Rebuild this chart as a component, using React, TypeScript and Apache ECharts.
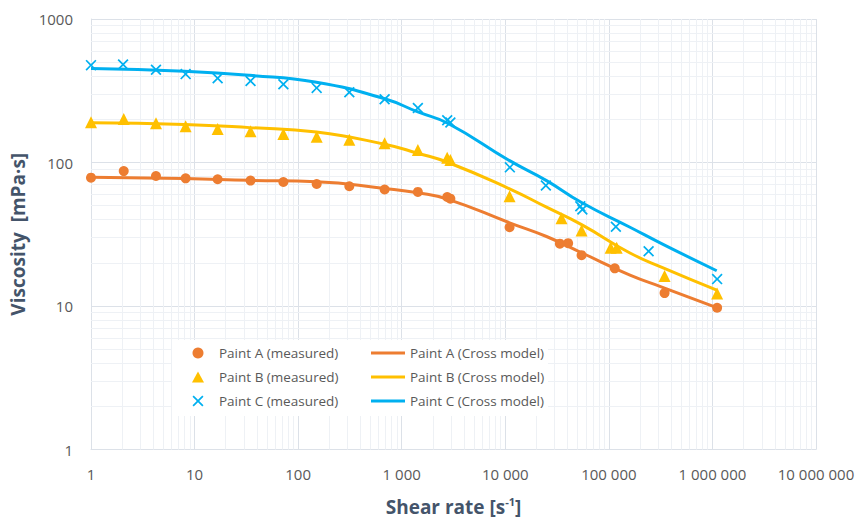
import React, { useEffect, useRef } from "react";
import * as echarts from "echarts";

// ---- Data ----
const measuredAX = [1, 2.07, 4.24, 8.2, 16.7, 34.7, 72, 151, 312, 684, 1432, 2750, 2950, 11000, 33650, 40450, 54500, 114000, 345000, 1110000];
const measuredAY = [78.4, 87.1, 80.5, 77.6, 76.4, 74.8, 73.1, 70.8, 68.3, 64.8, 62.4, 57.5, 56, 35.4, 27.2, 27.4, 22.6, 18.3, 12.3, 9.73];

const measuredBX = [1, 2.07, 4.24, 8.2, 16.7, 34.7, 72, 151, 312, 684, 1432, 2750, 2950, 11000, 34900, 54500, 104000, 119000, 345000, 1110000];
const measuredBY = [191, 201, 188, 179, 171, 165, 158, 151, 144, 136, 122, 108, 104, 58.1, 40.8, 33.6, 25.5, 25.5, 16.2, 12.2];

const measuredCX = [1, 2.04, 4.24, 8.2, 16.7, 34.7, 72, 151, 312, 684, 1432, 2750, 2950, 11070, 24650, 53000, 55500, 116900, 242000, 1110000];
const measuredCY = [477, 482, 443, 413, 386, 370, 351, 331, 309, 276, 240, 197, 190, 92.5, 69.1, 49.5, 47, 35.7, 24.1, 15.4];

const modelX = [1, 8, 34, 150, 684, 1432, 2810, 11000, 25000, 54500, 160000, 330000, 1100000];
const modelAY = [78.8, 77.3, 75.1, 73.5, 65.9, 61.5, 55.4, 38, 30.5, 23.5, 16.4, 13.5, 9.73];
const modelBY = [189, 184, 175, 163, 134, 116, 100, 65.5, 48.8, 36.9, 23.4, 18.5, 12.9];
const modelCY = [452, 433, 405, 362, 278, 225, 187, 103, 74.8, 52.6, 35.4, 27, 17.6];

const seriesNamesMeasured = ["Paint A (measured)", "Paint B (measured)", "Paint C (measured)"];
const seriesNamesModel = ["Paint A (Cross model)", "Paint B (Cross model)", "Paint C (Cross model)"];

const xMin = 1;
const xMax = 10000000;
const yMin = 1;
const yMax = 1000;

// minor log gridline values (2..9 in each decade)
const minorValues = (lo: number, hi: number) => {
  const out: number[] = [];
  for (let d = lo; d < hi; d *= 10) {
    for (let m = 2; m <= 9; m++) out.push(m * d);
  }
  return out;
};

const COLORS = ["#ED7D31", "#FFC000", "#00B0F0"];
const XSYMBOL = "path://M1.1,0L5,3.9L8.9,0L10,1.1L6.1,5L10,8.9L8.9,10L5,6.1L1.1,10L0,8.9L3.9,5L0,1.1Z";

const zip = (xs: number[], ys: number[]) => xs.map((x, i) => [x, ys[i]]);
const fmtSpace = (v: number) => String(Math.round(v)).replace(/\B(?=(\d{3})+(?!\d))/g, " ");

const FONT = "'Open Sans', 'Noto Sans', sans-serif";
const TITLE_COLOR = "#44546A";
const TEXT_COLOR = "#595959";
const MAJOR = "#DCE1E8";
const MINOR = "#EEF1F5";

export default function App() {
  const ref = useRef<HTMLDivElement>(null);

  useEffect(() => {
    document.body.style.margin = "0";
    if (!ref.current) return;
    const chart = echarts.init(ref.current, undefined, { renderer: "svg" });

    const legendText = { color: TEXT_COLOR, fontSize: 13.5, fontFamily: FONT, lineHeight: 18 };

    const option: any = {
      animation: false,
      backgroundColor: "#ffffff",
      textStyle: { fontFamily: FONT },
      grid: { left: 91, top: 19, width: 725, height: 436, containLabel: false },
      xAxis: {
        type: "log",
        logBase: 10,
        min: xMin,
        max: xMax,
        name: "{a|Shear rate [s}{b|-1}{a|]}",
        nameLocation: "middle",
        nameGap: 44,
        nameTextStyle: {
          rich: {
            a: { fontFamily: FONT, fontSize: 19, fontWeight: "bold", color: TITLE_COLOR, lineHeight: 26 },
            b: { fontFamily: FONT, fontSize: 11, fontWeight: "bold", color: TITLE_COLOR, lineHeight: 26, padding: [0, 0, 10, 0] },
          },
        },
        axisLine: { show: true, lineStyle: { color: MAJOR, width: 1 } },
        axisTick: { show: false },
        splitLine: { show: true, lineStyle: { color: MAJOR, width: 1 } },
        axisLabel: {
          color: TEXT_COLOR,
          fontSize: 15,
          fontFamily: FONT,
          margin: 17,
          formatter: (v: number) => fmtSpace(v),
        },
      },
      yAxis: {
        type: "log",
        logBase: 10,
        min: yMin,
        max: yMax,
        name: "Viscosity  [mPa·s]",
        nameLocation: "middle",
        nameGap: 59,
        nameRotate: 90,
        nameTextStyle: { fontFamily: FONT, fontSize: 19, fontWeight: "bold", color: TITLE_COLOR },
        axisLine: { show: true, lineStyle: { color: MAJOR, width: 1 } },
        axisTick: { show: false },
        splitLine: { show: true, lineStyle: { color: MAJOR, width: 1 } },
        axisLabel: {
          color: TEXT_COLOR,
          fontSize: 15,
          fontFamily: FONT,
          margin: 18,
          formatter: (v: number) => String(Math.round(v)),
        },
      },
      graphic: [
        {
          type: "rect",
          shape: { x: 172, y: 340, width: 376, height: 76 },
          style: { fill: "#ffffff" },
          z: 8,
          silent: true,
        },
      ],
      legend: [
        {
          data: seriesNamesMeasured,
          orient: "vertical",
          left: 192,
          top: 344,
          padding: 0,
          itemWidth: 12,
          itemHeight: 11,
          itemGap: 6,
          z: 10,
          textStyle: { ...legendText, padding: [0, 0, 0, 10] },
          selectedMode: false,
        },
        {
          data: seriesNamesModel.map((n) => ({ name: n, icon: "rect" })),
          orient: "vertical",
          left: 371,
          top: 344,
          padding: 0,
          itemWidth: 34,
          itemHeight: 3,
          itemGap: 6,
          z: 10,
          textStyle: legendText,
          selectedMode: false,
        },
      ],
      series: [
        {
          type: "line",
          name: "minor-grid",
          data: [],
          z: 1,
          silent: true,
          markLine: {
            silent: true,
            z: 1,
            symbol: ["none", "none"],
            label: { show: false },
            lineStyle: { color: MINOR, width: 1, type: "solid" },
            emphasis: { disabled: true },
            data: [
              ...minorValues(xMin, xMax).map((v) => ({ xAxis: v })),
              ...minorValues(yMin, yMax).map((v) => ({ yAxis: v })),
            ],
          },
        },
        {
          type: "line",
          name: seriesNamesModel[0],
          data: zip(modelX, modelAY),
          smooth: 0.5,
          symbol: "none",
          lineStyle: { color: COLORS[0], width: 3 },
          itemStyle: { color: COLORS[0] },
          z: 5,
        },
        {
          type: "line",
          name: seriesNamesModel[1],
          data: zip(modelX, modelBY),
          smooth: 0.5,
          symbol: "none",
          lineStyle: { color: COLORS[1], width: 3 },
          itemStyle: { color: COLORS[1] },
          z: 5,
        },
        {
          type: "line",
          name: seriesNamesModel[2],
          data: zip(modelX, modelCY),
          smooth: 0.5,
          symbol: "none",
          lineStyle: { color: COLORS[2], width: 3 },
          itemStyle: { color: COLORS[2] },
          z: 5,
        },
        {
          type: "scatter",
          name: seriesNamesMeasured[0],
          data: zip(measuredAX, measuredAY),
          symbol: "circle",
          symbolSize: 10,
          itemStyle: { color: COLORS[0], opacity: 1 },
          z: 6,
        },
        {
          type: "scatter",
          name: seriesNamesMeasured[1],
          data: zip(measuredBX, measuredBY),
          symbol: "triangle",
          symbolSize: 12,
          itemStyle: { color: COLORS[1], opacity: 1 },
          z: 6,
        },
        {
          type: "scatter",
          name: seriesNamesMeasured[2],
          data: zip(measuredCX, measuredCY),
          symbol: XSYMBOL,
          symbolSize: 11,
          itemStyle: { color: COLORS[2], opacity: 1 },
          z: 6,
        },
      ],
    };

    chart.setOption(option);
    return () => chart.dispose();
  }, []);

  return <div ref={ref} style={{ width: 861, height: 522 }} />;
}
